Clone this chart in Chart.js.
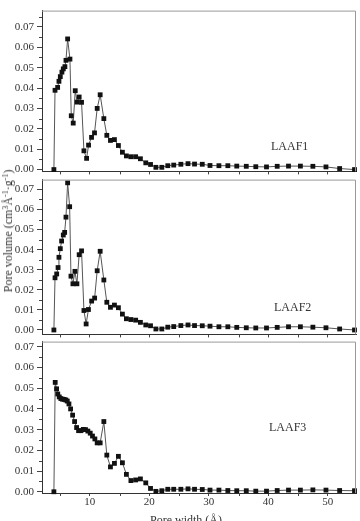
<!DOCTYPE html>
<html>
<head>
<meta charset="utf-8">
<script src="https://cdn.jsdelivr.net/npm/chart.js@4"></script>
<style>
  html, body { margin: 0; padding: 0; background: #fff; width: 360px; height: 521px; overflow: hidden; }
  #wrap { position: relative; width: 360px; height: 521px; }
  canvas { position: absolute; left: 0; }
  .tag, .ytitle, .xtitle { position: absolute; font-family: "Liberation Serif", "Times New Roman", serif; color: #333; white-space: nowrap; }
  .tag { font-size: 12px; line-height: 12px; }
  .xtitle { font-size: 12px; line-height: 12px; left: 150px; top: 514px; }
  .ytitle { font-size: 12px; line-height: 12px; left: 8px; top: 231px; transform: translate(-50%, -50%) rotate(-90deg); }
  .ytitle sup { font-size: 8px; vertical-align: 4px; line-height: 0; }
</style>
</head>
<body>
<div id="wrap">
  <canvas id="c1" width="360" height="180" style="top:1px"></canvas>
  <canvas id="c2" width="360" height="174" style="top:170px"></canvas>
  <canvas id="c3" width="360" height="201" style="top:332px"></canvas>
  <div class="tag" style="left:271px; top:140px">LAAF1</div>
  <div class="tag" style="left:274px; top:301px">LAAF2</div>
  <div class="tag" style="left:269px; top:421px">LAAF3</div>
  <div class="ytitle">Pore volume (cm<sup>3</sup>Å<sup>-1</sup>·g<sup>-1</sup>)</div>
  <div class="xtitle">Pore width (Å)</div>
</div>
<script>
// pore width (Å) and pore volume (cm3/Å/g) for each sample
const poreWidth1 = [3.95, 4.14, 4.58, 4.8, 5.03, 5.3, 5.53, 5.8, 5.98, 6.26, 6.65, 6.87, 7.2, 7.54, 7.87, 8.2, 8.6, 9.0,
  9.45, 9.78, 10.28, 10.78, 11.23, 11.73, 12.35, 12.85, 13.46, 14.13, 14.8, 15.47, 16.14, 16.9, 17.7, 18.5, 19.4, 20.2, 21.1, 22.1, 23.1, 24.1,
  25.3, 26.5, 27.6, 28.9, 30.2, 31.7, 33.2, 34.7, 36.3, 37.9, 39.7, 41.5, 43.4, 45.4, 47.5, 49.7, 52.0, 54.5];
const poreVolume1 = [0, 0.0389, 0.0403, 0.0433, 0.0456, 0.0478, 0.0494, 0.0505, 0.0536, 0.0641, 0.0542, 0.0264, 0.0228, 0.0387, 0.0331, 0.0356, 0.033, 0.0092,
  0.0055, 0.012, 0.0158, 0.018, 0.030, 0.0367, 0.025, 0.0168, 0.0143, 0.0147, 0.0118, 0.0085, 0.0067, 0.0063, 0.0063, 0.0053, 0.0033, 0.0025, 0.0011, 0.0011, 0.0019, 0.0022,
  0.0026, 0.0029, 0.0027, 0.0026, 0.0020, 0.0019, 0.0019, 0.0017, 0.0016, 0.0014, 0.0013, 0.0016, 0.0017, 0.0017, 0.0016, 0.0013, 0.0005, 0];

const poreWidth2 = [3.95, 4.14, 4.42, 4.65, 4.8, 5.03, 5.25, 5.53, 5.76, 5.98, 6.26, 6.6, 6.82, 7.15, 7.49, 7.82, 8.2, 8.6, 9.0, 9.37, 9.76,
  10.3, 10.8, 11.23, 11.73, 12.35, 12.85, 13.46, 14.13, 14.8, 15.47, 16.14, 16.9, 17.7, 18.5, 19.4, 20.2, 21.1, 22.1, 23.1, 24.1,
  25.3, 26.5, 27.6, 28.9, 30.2, 31.7, 33.2, 34.7, 36.3, 37.9, 39.7, 41.5, 43.4, 45.4, 47.5, 49.7, 52.0, 54.5];
const poreVolume2 = [0, 0.026, 0.0279, 0.0311, 0.0362, 0.0405, 0.0443, 0.0473, 0.0486, 0.0562, 0.0733, 0.0614, 0.0268, 0.023, 0.0292, 0.023, 0.0375, 0.0394, 0.0097, 0.003, 0.0102,
  0.0144, 0.0159, 0.0295, 0.0392, 0.0249, 0.0138, 0.0113, 0.0124, 0.0111, 0.0079, 0.0056, 0.0052, 0.0049, 0.0038, 0.0025, 0.0021, 0.0005, 0.0005, 0.0014, 0.0017,
  0.0022, 0.0025, 0.0022, 0.0021, 0.0019, 0.0016, 0.0016, 0.0013, 0.0011, 0.0010, 0.0010, 0.0013, 0.0016, 0.0016, 0.0014, 0.0011, 0.0005, 0];

const poreWidth3 = [3.95, 4.17, 4.4, 4.6, 4.85, 5.12, 5.4, 5.68, 5.96, 6.2, 6.48, 6.76, 7.1, 7.43, 7.77, 8.1, 8.5, 8.9, 9.27, 9.66, 10.06, 10.44, 10.84, 11.23, 11.73,
  12.35, 12.85, 13.46, 14.13, 14.8, 15.47, 16.14, 16.9, 17.7, 18.5, 19.4, 20.2, 21.1, 22.1, 23.1, 24.1,
  25.3, 26.5, 27.6, 28.9, 30.2, 31.7, 33.2, 34.7, 36.3, 37.9, 39.7, 41.5, 43.4, 45.4, 47.5, 49.7, 52.0, 54.5];
const poreVolume3 = [0, 0.0528, 0.0497, 0.0472, 0.0458, 0.045, 0.0447, 0.0446, 0.0443, 0.0438, 0.0424, 0.040, 0.037, 0.0339, 0.031, 0.0295, 0.0295, 0.0301, 0.030, 0.0293, 0.0283, 0.0269, 0.0255, 0.0236, 0.0236,
  0.0339, 0.0177, 0.012, 0.0137, 0.0171, 0.014, 0.0084, 0.0054, 0.0057, 0.0062, 0.0043, 0.0016, 0.0002, 0.0005, 0.0012, 0.0012,
  0.0012, 0.0014, 0.0012, 0.0011, 0.0008, 0.0008, 0.0006, 0.0005, 0.0005, 0.0003, 0.0003, 0.0006, 0.0008, 0.0008, 0.0009, 0.0008, 0.0006, 0.0005];

const xTickLabels = [10, 20, 30, 40, 50];
const yTickLabels = ["0.00", "0.01", "0.02", "0.03", "0.04", "0.05", "0.06", "0.07"];

const FONT = "'Liberation Serif', 'Times New Roman', serif";

// box round the plot area and the minor tick marks
const framePlugin = {
  id: "frame",
  afterDraw(chart) {
    const { ctx, chartArea: a } = chart;
    const xs = chart.scales.x, ys = chart.scales.y;
    ctx.save();
    ctx.strokeStyle = "#999";
    ctx.lineWidth = 1;
    ctx.beginPath();
    ctx.moveTo(a.left, a.top + 0.5);
    ctx.lineTo(a.right - 0.5, a.top + 0.5);
    ctx.lineTo(a.right - 0.5, a.bottom);
    ctx.stroke();

    ctx.strokeStyle = "#444";
    ctx.beginPath();
    for (let v = 0.005; v < ys.max; v += 0.01) {
      const py = Math.round(ys.getPixelForValue(v)) + 0.5;
      ctx.moveTo(a.left - 3, py);
      ctx.lineTo(a.left, py);
    }
    for (let v = 5; v < xs.max; v += 10) {
      const px = Math.round(xs.getPixelForValue(v)) + 0.5;
      ctx.moveTo(px, a.bottom);
      ctx.lineTo(px, a.bottom + 3);
    }
    ctx.stroke();
    ctx.restore();
  }
};

function drawPanel(canvasId, widths, volumes, yMin, yMax, showXLabels, xAxisHeight) {
  const points = widths.map((w, i) => ({ x: w, y: volumes[i] }));
  new Chart(document.getElementById(canvasId), {
    type: "scatter",
    data: {
      datasets: [{
        data: points,
        showLine: true,
        borderColor: "#555",
        borderWidth: 1,
        pointStyle: "rect",
        pointRadius: 3.4,
        pointBackgroundColor: "#111",
        pointBorderColor: "#111",
        pointBorderWidth: 0,
        clip: false
      }]
    },
    options: {
      responsive: false,
      animation: false,
      events: [],
      layout: { padding: { top: 4, right: 3, left: 0, bottom: 0 } },
      plugins: { legend: { display: false }, tooltip: { enabled: false } },
      scales: {
        x: {
          type: "linear",
          min: 1.95,
          max: 54.75,
          afterFit: s => { s.height = xAxisHeight; },
          border: { color: "#333", width: 1 },
          grid: { drawOnChartArea: false, tickLength: 3, tickColor: "#444" },
          ticks: {
            stepSize: 10,
            includeBounds: false,
            padding: 0,
            color: "#333",
            font: { family: FONT, size: 11 },
            callback: v => showXLabels && xTickLabels.includes(v) ? String(v) : ""
          }
        },
        y: {
          min: yMin,
          max: yMax,
          afterFit: s => { s.width = 42; },
          border: { color: "#333", width: 1 },
          grid: { drawOnChartArea: false, tickLength: 5, tickColor: "#444" },
          ticks: {
            stepSize: 0.01,
            includeBounds: false,
            padding: 3,
            color: "#333",
            font: { family: FONT, size: 11 },
            callback: v => yTickLabels[Math.round(v * 100)] || ""
          }
        }
      }
    },
    plugins: [framePlugin]
  });
}

drawPanel("c1", poreWidth1, poreVolume1, -0.0009, 0.078, false, 8);
drawPanel("c2", poreWidth2, poreVolume2, -0.0022, 0.0749, false, 8);
drawPanel("c3", poreWidth3, poreVolume3, -0.0006, 0.0725, true, 40);
</script>
</body>
</html>
